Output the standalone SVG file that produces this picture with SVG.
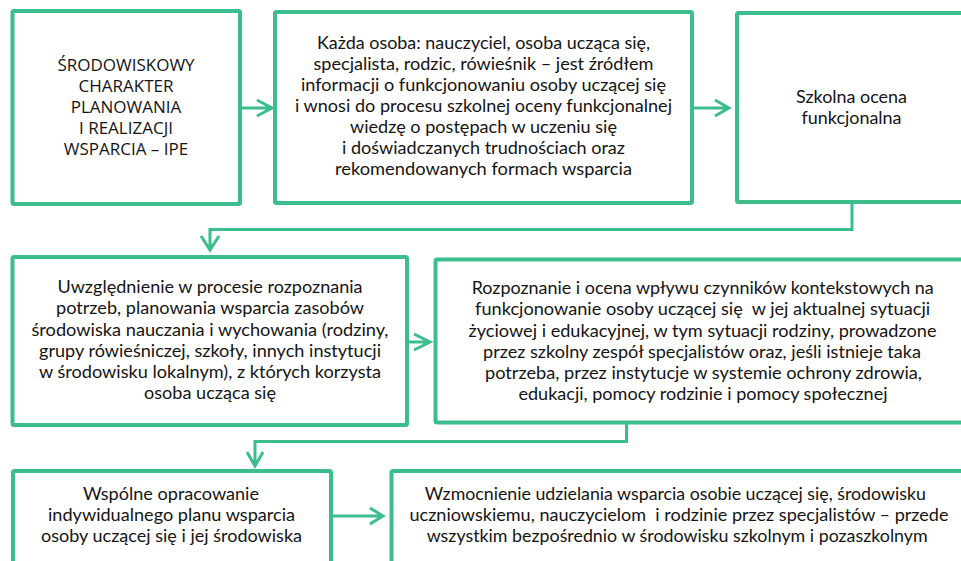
<svg xmlns="http://www.w3.org/2000/svg" width="961" height="561" viewBox="0 0 961 561">
<style>
.box{fill:#fff;stroke:#3bbd8c;stroke-width:4}
.con{fill:none;stroke:#3bbd8c;stroke-width:3;stroke-linejoin:miter}
.t{font-family:Lato,"Liberation Sans",sans-serif;font-size:17.4px;fill:#141414;text-anchor:middle;white-space:pre}
.t1{font-family:"Open Sans","Liberation Sans",sans-serif;font-size:17px;fill:#141414;text-anchor:middle}
</style>
<rect width="961" height="561" fill="#fff"/>
<g id="connectors">
<path class="con" d="M242 108H271M257 100L272 108L257 116"/>
<path class="con" d="M694 108H728M715 100L729 108L715 116"/>
<path class="con" d="M409 342H429M414 334L430 342L414 350"/>
<path class="con" d="M333 516H382M370 508L383 516L370 524"/>
<path class="con" d="M852 204V229.5H210V249M201 236L210 250L219 236"/>
<path class="con" d="M626.5 423V441.5H255V465M247 452L255 466L263 452"/>
</g>
<g id="n1">
<rect class="box" x="12.5" y="11" width="227.5" height="193" rx="1.5"/>
<text class="t1" x="126" y="71">ŚRODOWISKOWY</text>
<text class="t1" x="126" y="92">CHARAKTER</text>
<text class="t1" x="126" y="113">PLANOWANIA</text>
<text class="t1" x="126" y="134">I REALIZACJI</text>
<text class="t1" x="126" y="155">WSPARCIA – IPE</text>
</g>
<g id="n2">
<rect class="box" x="275" y="12" width="417" height="191" rx="1.5"/>
<text class="t" x="483.5" y="49" textLength="333" lengthAdjust="spacingAndGlyphs">Każda osoba: nauczyciel, osoba ucząca się,</text>
<text class="t" x="483.5" y="70" textLength="340" lengthAdjust="spacingAndGlyphs">specjalista, rodzic, rówieśnik – jest źródłem</text>
<text class="t" x="483.5" y="91" textLength="365" lengthAdjust="spacingAndGlyphs">informacji o funkcjonowaniu osoby uczącej się</text>
<text class="t" x="483.5" y="112" textLength="377" lengthAdjust="spacingAndGlyphs">i wnosi do procesu szkolnej oceny funkcjonalnej</text>
<text class="t" x="483.5" y="133" textLength="267" lengthAdjust="spacingAndGlyphs">wiedzę o postępach w uczeniu się</text>
<text class="t" x="483.5" y="154" textLength="283" lengthAdjust="spacingAndGlyphs">i doświadczanych trudnościach oraz</text>
<text class="t" x="483.5" y="175" textLength="297" lengthAdjust="spacingAndGlyphs">rekomendowanych formach wsparcia</text>
</g>
<g id="n3">
<rect class="box" x="737" y="13" width="240" height="189" rx="1.5"/>
<text class="t" x="851.5" y="103" textLength="111" lengthAdjust="spacingAndGlyphs">Szkolna ocena</text>
<text class="t" x="851.5" y="124" textLength="100" lengthAdjust="spacingAndGlyphs">funkcjonalna</text>
</g>
<g id="n4">
<rect class="box" x="12.5" y="257" width="394.5" height="168" rx="1.5"/>
<text class="t" x="210" y="293" textLength="305" lengthAdjust="spacingAndGlyphs">Uwzględnienie w procesie rozpoznania</text>
<text class="t" x="210" y="314" textLength="308" lengthAdjust="spacingAndGlyphs">potrzeb, planowania wsparcia zasobów</text>
<text class="t" x="210" y="336" textLength="357" lengthAdjust="spacingAndGlyphs">środowiska nauczania i wychowania (rodziny,</text>
<text class="t" x="210" y="357" textLength="342" lengthAdjust="spacingAndGlyphs">grupy rówieśniczej, szkoły, innych instytucji</text>
<text class="t" x="210" y="378" textLength="342" lengthAdjust="spacingAndGlyphs">w środowisku lokalnym), z których korzysta</text>
<text class="t" x="210" y="399" textLength="132" lengthAdjust="spacingAndGlyphs">osoba ucząca się</text>
</g>
<g id="n5">
<rect class="box" x="435.5" y="259.5" width="540" height="163" rx="1.5"/>
<text class="t" x="702.7" y="294" textLength="462" lengthAdjust="spacingAndGlyphs">Rozpoznanie i ocena wpływu czynników kontekstowych na</text>
<text class="t" x="702.6" y="315" textLength="455" lengthAdjust="spacingAndGlyphs">funkcjonowanie osoby uczącej się  w jej aktualnej sytuacji</text>
<text class="t" x="702.5" y="337" textLength="468" lengthAdjust="spacingAndGlyphs">życiowej i edukacyjnej, w tym sytuacji rodziny, prowadzone</text>
<text class="t" x="702" y="358" textLength="438" lengthAdjust="spacingAndGlyphs">przez szkolny zespół specjalistów oraz, jeśli istnieje taka</text>
<text class="t" x="703.5" y="379" textLength="437" lengthAdjust="spacingAndGlyphs">potrzeba, przez instytucje w systemie ochrony zdrowia,</text>
<text class="t" x="703" y="400" textLength="369" lengthAdjust="spacingAndGlyphs">edukacji, pomocy rodzinie i pomocy społecznej</text>
</g>
<g id="n6">
<rect class="box" x="13" y="471" width="318" height="110" rx="1.5"/>
<text class="t" x="171" y="500" textLength="176" lengthAdjust="spacingAndGlyphs">Wspólne opracowanie</text>
<text class="t" x="171.5" y="521" textLength="247" lengthAdjust="spacingAndGlyphs">indywidualnego planu wsparcia</text>
<text class="t" x="171.5" y="542" textLength="261" lengthAdjust="spacingAndGlyphs">osoby uczącej się i jej środowiska</text>
</g>
<g id="n7">
<rect class="box" x="391.5" y="471" width="600" height="110" rx="1.5"/>
<text class="t" x="675.3" y="500" textLength="501" lengthAdjust="spacingAndGlyphs">Wzmocnienie udzielania wsparcia osobie uczącej się, środowisku</text>
<text class="t" x="679" y="521" textLength="539" lengthAdjust="spacingAndGlyphs">uczniowskiemu, nauczycielom  i rodzinie przez specjalistów – przede</text>
<text class="t" x="677.2" y="542" textLength="501" lengthAdjust="spacingAndGlyphs">wszystkim bezpośrednio w środowisku szkolnym i pozaszkolnym</text>
</g>
</svg>
